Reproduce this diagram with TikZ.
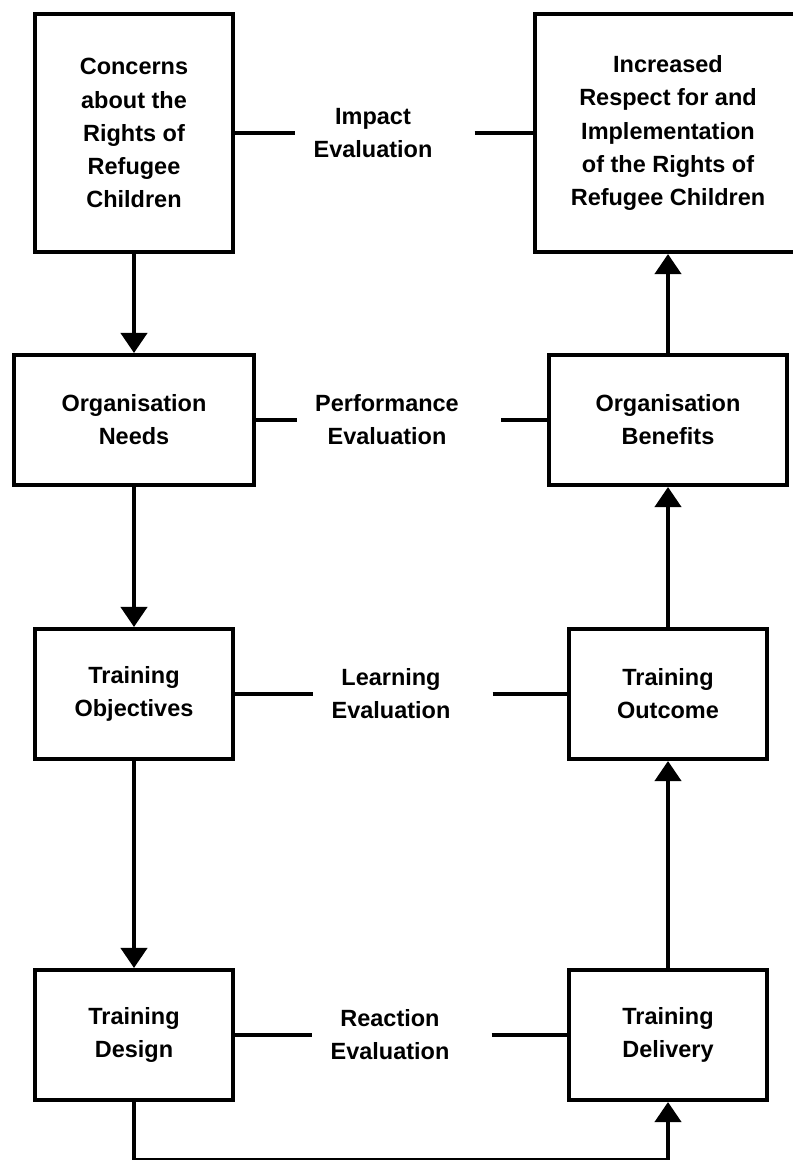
\documentclass[tikz,border=0pt]{standalone}
\usepackage{fontspec}
\setmainfont{Liberation Sans}
\usetikzlibrary{arrows.meta}

\begin{document}
\begin{tikzpicture}[
    x=0.025cm, y=-0.025cm,
    box/.style={rectangle, draw=black, line width=1mm, inner sep=0pt, align=center,
                font={\fontsize{16.7pt}{23.5pt}\selectfont\bfseries}},
    small/.style={minimum width=4.95cm, minimum height=3.25cm},
    evaltext/.style={align=center, inner xsep=4.5mm, inner ysep=0pt,
                     font={\fontsize{16.7pt}{23.5pt}\selectfont\bfseries}},
    link/.style={line width=1mm},
    arrow/.style={-{Triangle[width=6.5mm, length=5mm]}, line width=1mm}
]
\useasboundingbox (0,0) rectangle (793,1160);

% left column
\node[box, minimum width=4.95cm, minimum height=5.95cm] (concerns) at (134,133)
     {Concerns\\about the\\Rights of\\Refugee\\Children};
\node[box, minimum width=5.975cm, minimum height=3.25cm] (needs) at (134,420)
     {Organisation\\Needs};
\node[box, small] (objectives) at (134,694) {Training\\Objectives};
\node[box, small] (design)     at (134,1035) {Training\\Design};

% right column
\node[box, minimum width=6.65cm, minimum height=5.95cm] (respect) at (668,133)
     {Increased\\Respect for and\\Implementation\\of the Rights of\\Refugee Children};
\node[box, minimum width=5.95cm, minimum height=3.25cm] (benefits) at (668,420)
     {Organisation\\Benefits};
\node[box, small] (outcome)  at (668,694)  {Training\\Outcome};
\node[box, small] (delivery) at (668,1035) {Training\\Delivery};

% evaluation levels
\node[evaltext] (impact)      at (373,133)  {Impact\\Evaluation};
\node[evaltext] (performance) at (387,420)  {Performance\\Evaluation};
\node[evaltext] (learning)    at (391,694)  {Learning\\Evaluation};
\node[evaltext] (reaction)    at (390,1035) {Reaction\\Evaluation};

\draw[link] (concerns) -- (impact);
\draw[link, shorten <=6mm] (impact) -- (respect);
\draw[link] (needs) -- (performance);
\draw[link, shorten <=6mm] (performance) -- (benefits);
\draw[link] (objectives) -- (learning);
\draw[link, shorten <=6mm] (learning) -- (outcome);
\draw[link] (design) -- (reaction);
\draw[link, shorten <=6mm] (reaction) -- (delivery);

% training cycle
\draw[arrow] (concerns) -- (needs);
\draw[arrow] (needs) -- (objectives);
\draw[arrow] (objectives) -- (design);
\draw[arrow] (design.south) -- ++(0,58) -| (delivery.south);
\draw[arrow] (delivery) -- (outcome);
\draw[arrow] (outcome) -- (benefits);
\draw[arrow] (benefits) -- (respect);
\end{tikzpicture}
\end{document}
